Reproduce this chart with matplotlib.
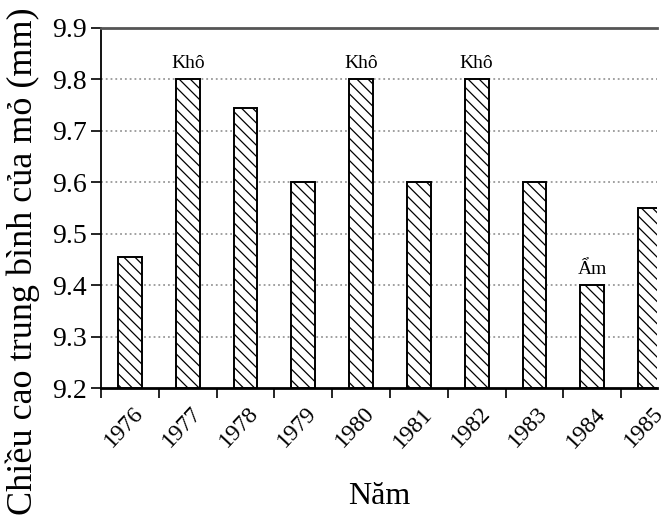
import matplotlib.pyplot as plt
from matplotlib.transforms import ScaledTranslation
import numpy as np

plt.rcParams['font.family'] = ['Liberation Serif', 'DejaVu Serif']
plt.rcParams['hatch.linewidth'] = 0.9

years = ['1976', '1977', '1978', '1979', '1980', '1981', '1982', '1983', '1984', '1985']
heights = [9.455, 9.80, 9.745, 9.60, 9.80, 9.60, 9.80, 9.60, 9.40, 9.55]
notes = {'1977': 'Khô', '1980': 'Khô', '1982': 'Khô', '1984': 'Ẩm'}

fig = plt.figure(figsize=(6.69, 5.22), dpi=100)
ax = fig.add_axes([0.151, 0.2567, 0.831, 0.6897])

x = np.arange(len(years))
base = 9.2
ax.bar(x, np.array(heights) - base, bottom=base, width=0.41,
       color='white', edgecolor='black', linewidth=1.4, hatch='\\\\\\', zorder=3)

for i, yr in enumerate(years):
    if yr in notes:
        ax.text(i, heights[i] + 0.022, notes[yr], ha='center', va='baseline', fontsize=14)

ax.set_yticks(np.arange(9.2, 9.91, 0.1))
ax.set_yticklabels(['%.1f' % v for v in np.arange(9.2, 9.91, 0.1)], fontsize=20)

ax.set_xticks(x)
ax.set_xticklabels(years, fontsize=17, rotation=47, ha='right', va='center',
                   rotation_mode='anchor')
ax.set_xticks(np.arange(-0.5, 10, 1), minor=True)
ax.tick_params(axis='x', which='major', length=0, pad=16)
ax.tick_params(axis='x', which='minor', length=7, width=1.2, direction='out')
ax.tick_params(axis='y', length=7, width=1.2, direction='out', pad=3)
# nudge the slanted year labels to the right, like the original
for lab in ax.get_xticklabels():
    lab.set_transform(lab.get_transform() + ScaledTranslation(0.10, 0, fig.dpi_scale_trans))

# limits after the ticks, since set_xticks widens the view
ax.set_xlim(-0.5, 9.12)
ax.set_ylim(9.2, 9.9)

for v in np.arange(9.3, 9.85, 0.1):
    ax.axhline(v, color='#999999', linestyle=':', linewidth=1.3, zorder=1)

ax.spines['right'].set_visible(False)
ax.spines['top'].set_color('#555555')
ax.spines['top'].set_linewidth(2)
ax.spines['left'].set_linewidth(1.3)
ax.spines['bottom'].set_linewidth(2)

ax.set_ylabel('Chiều cao trung bình của mỏ (mm)', fontsize=26)
ax.yaxis.set_label_coords(-0.11, 0.353)
ax.set_xlabel('Năm', fontsize=23, labelpad=22)

fig.savefig('out.png', dpi=100)
